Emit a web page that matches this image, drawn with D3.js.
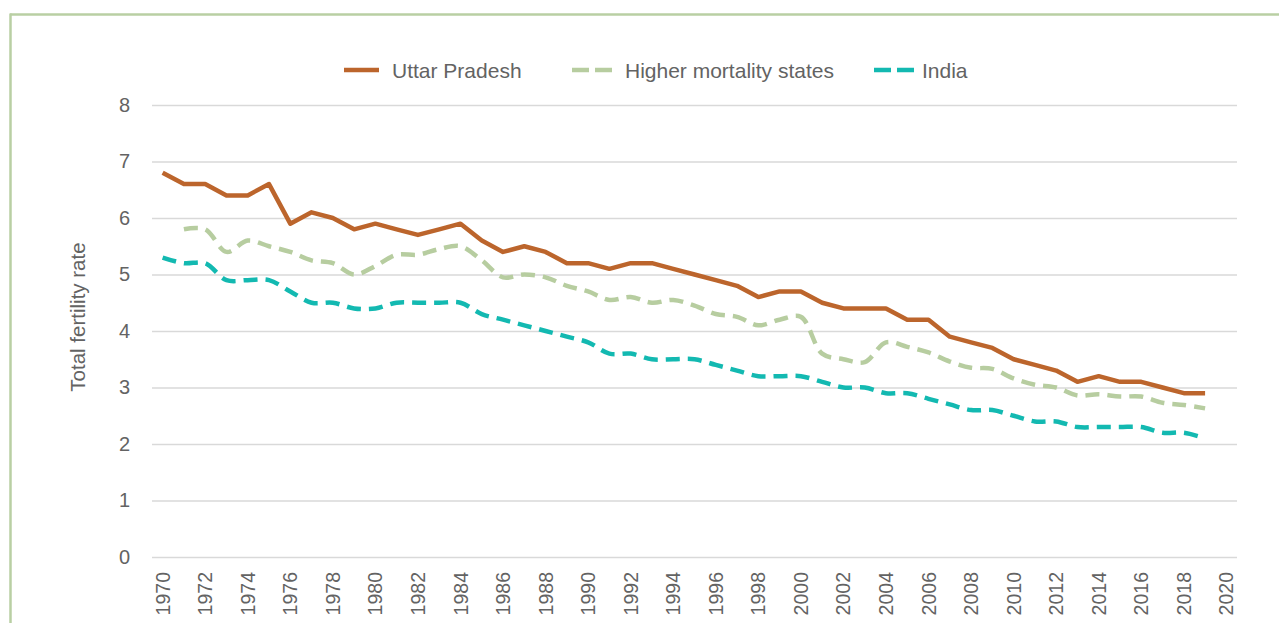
<!DOCTYPE html>
<html><head><meta charset="utf-8">
<script src="https://cdn.jsdelivr.net/npm/d3@7"></script>
<style>
html,body{margin:0;padding:0;background:#fff;}
svg{display:block;}
text{font-family:"Liberation Sans",Arial,sans-serif;fill:#636363;}
</style></head>
<body>
<svg id="chart" width="1279" height="623"></svg>
<script>
const years = d3.range(1970, 2021);
const tickYears = d3.range(1970, 2021, 2);
const yTicks = [0,1,2,3,4,5,6,7,8];
const seriesNames = ["Uttar Pradesh", "Higher mortality states", "India"];
const upValues = [6.8,6.6,6.6,6.4,6.4,6.6,5.9,6.1,6.0,5.8,5.9,5.8,5.7,5.8,5.9,5.6,5.4,5.5,5.4,5.2,5.2,5.1,5.2,5.2,5.1,5.0,4.9,4.8,4.6,4.7,4.7,4.5,4.4,4.4,4.4,4.2,4.2,3.9,3.8,3.7,3.5,3.4,3.3,3.1,3.2,3.1,3.1,3.0,2.9,2.9];
const hmsValues = [null,5.8,5.8,5.4,5.6,5.5,5.4,5.25,5.2,5.0,5.15,5.35,5.35,5.45,5.5,5.25,4.95,5.0,4.95,4.8,4.7,4.55,4.6,4.5,4.55,4.45,4.3,4.25,4.1,4.2,4.25,3.6,3.5,3.45,3.8,3.72,3.62,3.46,3.35,3.33,3.16,3.05,3.0,2.86,2.88,2.84,2.84,2.73,2.69,2.63];
const indiaValues = [5.3,5.2,5.2,4.9,4.9,4.9,4.7,4.5,4.5,4.4,4.4,4.5,4.5,4.5,4.5,4.3,4.2,4.1,4.0,3.9,3.8,3.6,3.6,3.5,3.5,3.5,3.4,3.3,3.2,3.2,3.2,3.1,3.0,3.0,2.9,2.9,2.8,2.7,2.6,2.6,2.5,2.4,2.4,2.3,2.3,2.3,2.3,2.2,2.2,2.1];
const yLabel = "Total fertility rate";

const svg = d3.select("#chart");
// frame
svg.append("line").attr("x1",10).attr("x2",1279).attr("y1",14.5).attr("y2",14.5).attr("stroke","#b9cfa3").attr("stroke-width",2.5);
svg.append("line").attr("x1",10.5).attr("x2",10.5).attr("y1",13.5).attr("y2",623).attr("stroke","#b9cfa3").attr("stroke-width",2.5);

const x = d3.scaleBand().domain(years).range([152, 1237]);
const y = d3.scaleLinear().domain([0, 8]).range([557, 105]);
const xc = yr => x(yr) + x.bandwidth()/2;

// gridlines
const yAxis = d3.axisLeft(y).tickValues(yTicks).tickSize(-(1237-152)).tickPadding(22).tickFormat(d3.format("d"));
const gy = svg.append("g").attr("transform","translate(152,0)").call(yAxis);
gy.select(".domain").remove();
gy.selectAll(".tick line").attr("stroke","#d9d9d9").attr("stroke-width",1.5);
gy.selectAll(".tick text").attr("font-size",20).attr("font-family",null).style("fill","#636363");

// x axis labels
const xAxis = d3.axisBottom(x).tickValues(tickYears).tickSize(0).tickFormat(d3.format("d"));
const gx = svg.append("g").attr("transform","translate(0,557)").call(xAxis);
gx.select(".domain").remove();
gx.selectAll(".tick text").attr("font-size",19.5).attr("font-family",null).style("fill","#636363")
  .attr("transform","rotate(-90)").attr("text-anchor","end").attr("dx","-15").attr("dy","0.36em").attr("y",0).attr("x",0);

// y label
svg.append("text").attr("transform","translate(85,317) rotate(-90)").attr("text-anchor","middle")
  .attr("font-size",20.5).text(yLabel);

const mk = vals => years.slice(0, vals.length).map((yr,i)=>({yr, v: vals[i]})).filter(d=>d.v!=null);
const lineStraight = d3.line().x(d=>xc(d.yr)).y(d=>y(d.v));
const lineSmooth = d3.line().x(d=>xc(d.yr)).y(d=>y(d.v)).curve(d3.curveCatmullRom.alpha(0.5));

const colors = ["#bc652c","#b7cda0","#13b9b1"];
svg.append("path").datum(mk(hmsValues)).attr("d",lineSmooth).attr("fill","none")
  .attr("stroke",colors[1]).attr("stroke-width",4.5).attr("stroke-dasharray","14,8");
svg.append("path").datum(mk(indiaValues)).attr("d",lineSmooth).attr("fill","none")
  .attr("stroke",colors[2]).attr("stroke-width",4.5).attr("stroke-dasharray","14,8");
svg.append("path").datum(mk(upValues)).attr("d",lineStraight).attr("fill","none")
  .attr("stroke",colors[0]).attr("stroke-width",4.5).attr("stroke-linejoin","round");

// legend
const legendX = [344, 572, 874];
const legendTextDx = [48, 53, 48];
const legend = svg.append("g");
seriesNames.forEach((n,i)=>{
  const g = legend.append("g").attr("transform",`translate(${legendX[i]},70)`);
  g.append("line").attr("x1",0).attr("x2",i===0?35:40).attr("y1",0).attr("y2",0)
   .attr("stroke",colors[i]).attr("stroke-width",4.5)
   .attr("stroke-dasharray", i===0?null:"17,6");
  g.append("text").attr("x",legendTextDx[i]).attr("dy","0.36em").attr("font-size",21).text(n);
});
</script>
</body></html>
